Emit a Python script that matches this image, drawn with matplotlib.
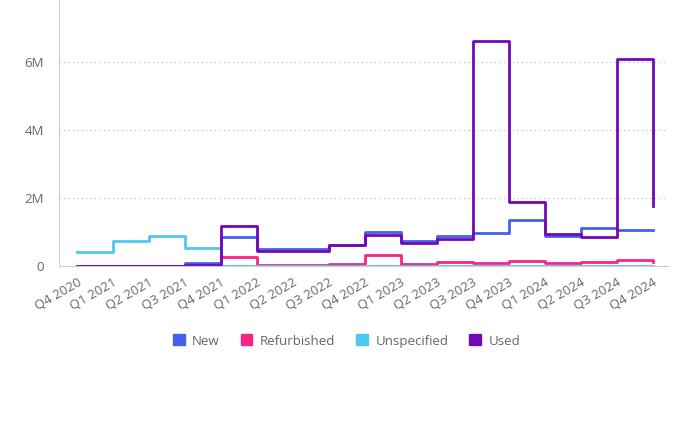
import numpy as np
import matplotlib.pyplot as plt
from matplotlib.patches import Patch
from matplotlib.ticker import FuncFormatter

plt.rcParams['font.family'] = ['Open Sans', 'DejaVu Sans']

quarters = ['Q4 2020', 'Q1 2021', 'Q2 2021', 'Q3 2021', 'Q4 2021',
            'Q1 2022', 'Q2 2022', 'Q3 2022', 'Q4 2022',
            'Q1 2023', 'Q2 2023', 'Q3 2023', 'Q4 2023',
            'Q1 2024', 'Q2 2024', 'Q3 2024', 'Q4 2024']

# quarterly totals per condition
new = [0, 0, 0.01e6, 0.08e6, 0.84e6, 0.49e6, 0.49e6, 0.63e6, 0.99e6,
       0.74e6, 0.87e6, 0.96e6, 1.35e6, 0.88e6, 1.12e6, 1.05e6, 1.06e6]
refurbished = [0, 0, 0, 0.01e6, 0.25e6, 0.03e6, 0.04e6, 0.06e6, 0.32e6,
               0.07e6, 0.11e6, 0.08e6, 0.15e6, 0.08e6, 0.13e6, 0.17e6, 0.13e6]
unspecified = [0.40e6, 0.74e6, 0.88e6, 0.54e6, 0.01e6, 0.01e6, 0.01e6, 0.01e6, 0.01e6,
               0.01e6, 0.01e6, 0.01e6, 0.01e6, 0.01e6, 0.01e6, 0.01e6, 0.01e6]
used = [0, 0, 0.01e6, 0.03e6, 1.17e6, 0.45e6, 0.44e6, 0.62e6, 0.92e6,
        0.67e6, 0.80e6, 6.62e6, 1.88e6, 0.94e6, 0.86e6, 6.09e6, 1.75e6]

series = [('New', new, '#4361ee'),
          ('Refurbished', refurbished, '#f72585'),
          ('Unspecified', unspecified, '#4cc9f0'),
          ('Used', used, '#7209b7')]

fig = plt.figure(figsize=(6.93, 4.42), dpi=100)
ax = fig.add_axes([59/693, 176/442, 609/693, 266/442])

x = np.arange(len(quarters))
for name, vals, col in series:
    ax.plot(x, vals, drawstyle='steps-post', color=col, lw=2.0, label=name)

ax.set_xlim(-0.5, 16.42)
ax.set_ylim(0, 7.82e6)
ax.set_yticks([0, 2e6, 4e6, 6e6])
ax.yaxis.set_major_formatter(FuncFormatter(lambda v, p: '0' if v == 0 else '%dM' % (v / 1e6)))
ax.yaxis.grid(True, linestyle=(0, (1, 3)), color='#bbbbbb', lw=0.8)
ax.set_axisbelow(True)

ax.set_xticks(x)
ax.set_xticklabels(quarters, rotation=30, ha='right', rotation_mode='anchor')

for s in ['top', 'right']:
    ax.spines[s].set_visible(False)
ax.spines['left'].set_color('#cccccc')
ax.spines['bottom'].set_color('#cccccc')
ax.tick_params(axis='both', length=0, colors='#666666', labelsize=9.5)
ax.tick_params(axis='y', pad=11)
ax.tick_params(axis='x', pad=7)

handles = [Patch(facecolor=c, edgecolor=c) for _, _, c in series]
fig.legend(handles, [n for n, _, _ in series], loc='center', bbox_to_anchor=(0.5, 1 - 341/442),
           ncol=4, frameon=False, handlelength=0.9, handleheight=0.9, handletextpad=0.55,
           columnspacing=1.6, fontsize=9.5, labelcolor='#666666')

fig.savefig('out.png', dpi=100)
